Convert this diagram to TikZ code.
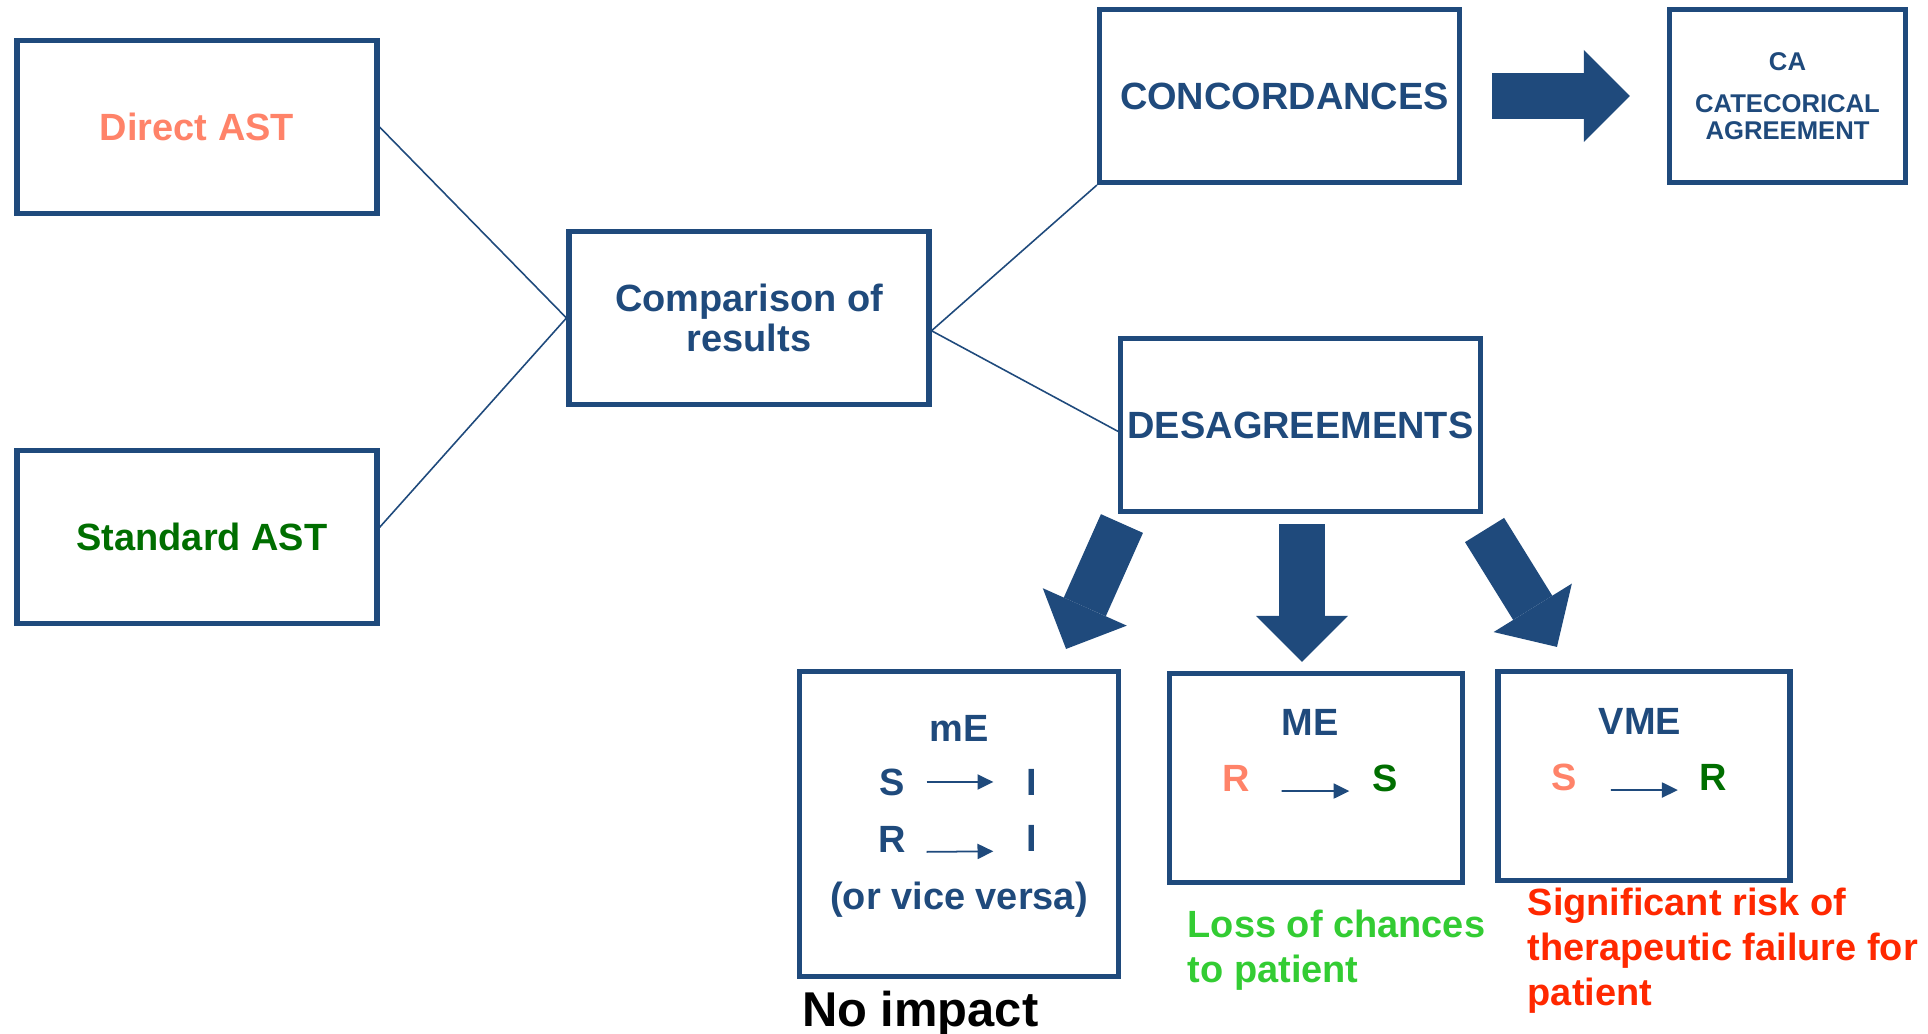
\documentclass[tikz,border=0pt]{standalone}
\usepackage{fontspec}
\setmainfont{Liberation Sans}
\usepackage{xcolor}
\usepackage{tikz}
\usetikzlibrary{arrows.meta,calc}
\definecolor{navy}{HTML}{1F4A7C}
\definecolor{salmon}{HTML}{FF8369}
\definecolor{leaf}{HTML}{006E00}
\definecolor{lime}{HTML}{33CC33}
\definecolor{alert}{HTML}{FF2800}
\tikzset{box/.style={rectangle,draw=navy,line width=1.45pt,minimum width=3.6cm,minimum height=1.73cm,inner sep=0pt,align=center,text=navy,font=\fontsize{10.8}{11.2}\selectfont\bfseries}}
\tikzset{lbl/.style={inner sep=0pt,text=navy,font=\fontsize{10.8}{12.8}\selectfont\bfseries}}
\tikzset{link/.style={draw=navy,line width=0.45pt}}
\tikzset{fatarr/.style={draw=navy,line width=4.6mm,-{Triangle[length=4.6mm,width=9.2mm,line width=0pt]}}}
\tikzset{arr/.style={draw=navy,line width=0.5pt,-{Triangle[length=4.5pt,width=4.3pt]}}}

\begin{document}
\begin{tikzpicture}
    \useasboundingbox (0,0) rectangle (19.28,10.34);

    \node[box,text=salmon] (dir) at (1.97,9.07) {Direct AST};
    \node[box,text=leaf] (std) at (1.97,4.97) {\hspace*{1mm}Standard AST};
    \node[box] (cmp) at (7.49,7.16) {Comparison of\\results};
    \node[box] (conc) at (12.795,9.38) {\hspace*{1mm}CONCORDANCES};
    \node[box,minimum width=2.36cm,font=\fontsize{7.3}{7.6}\selectfont\bfseries] (ca) at (17.875,9.38) {CA\\[4.3pt]CATECORICAL\\AGREEMENT};
    \node[box] (dis) at (13.005,6.09) {DESAGREEMENTS};
    \node[box,minimum width=3.19cm,minimum height=3.05cm] (minor) at (9.59,2.10) {};
    \node[box,minimum width=2.93cm,minimum height=2.09cm] (major) at (13.16,2.56) {};
    \node[box,minimum width=2.92cm,minimum height=2.09cm] (vmajor) at (16.44,2.58) {};

    \node[lbl] (mtitle) at (9.59,3.06) {mE};
    \node[lbl] (ms) at (8.92,2.52) {S};
    \node[lbl] (mi) at (10.32,2.52) {I};
    \node[lbl] (mr) at (8.92,1.95) {R};
    \node[lbl] (mii) at (10.32,1.96) {I};
    \node[lbl] (mvv) at (9.59,1.34) {(or vice versa)};
    \node[lbl,text=black,font=\fontsize{13.9}{16}\selectfont\bfseries,anchor=base west] (noimp) at (8.015,0.07) {No impact};

    \node[lbl] (jtitle) at (13.10,3.12) {ME};
    \node[lbl,text=salmon] (jr) at (12.365,2.56) {R};
    \node[lbl,text=leaf] (js) at (13.85,2.56) {S};
    \node[lbl,text=lime,align=left,anchor=north west] (loss) at (11.87,1.25) {Loss of chances\\to patient};

    \node[lbl] (vtitle) at (16.40,3.13) {VME};
    \node[lbl,text=salmon] (vs) at (15.645,2.57) {S};
    \node[lbl,text=leaf] (vr) at (17.135,2.57) {R};
    \node[lbl,text=alert,align=left,anchor=north west] (risk) at (15.27,1.47) {Significant risk of\\therapeutic failure for\\patient};

    \draw [link] (dir.east) to [] (cmp.west);
    \draw [link] (std.3) to [] (cmp.west);
    \draw [link] (cmp.-4) to [] (conc.south west);
    \draw [link] (cmp.-4) to [] (dis.182);

    \draw [fatarr] ([xshift=3mm]conc.east) to [] ([xshift=-3.7mm]ca.west);
    \draw [fatarr] ($(dis.south west)+(0.04,-0.095)$) to [] ($(minor.north east)+(-0.55,0.2)$);
    \draw [fatarr] ($(dis.south)+(0.015,-0.1)$) to [] ($(dis.south |- major.north)+(0.015,0.09)$);
    \draw [fatarr] ($(dis.south east)+(0.015,-0.16)$) to [] ($(vmajor.north west)+(0.615,0.22)$);

    \draw [arr,shorten <=2.13mm,shorten >=3.27mm] (ms.east) to [] (mi.west);
    \draw [arr,shorten <=2.03mm,shorten >=3.27mm] (mr.base east) to [] (mii.base west);
    \draw [arr,shorten <=3.08mm,shorten >=2.23mm] (jr.base east) to [] (js.base west);
    \draw [arr,shorten <=3.29mm,shorten >=2.13mm] (vs.base east) to [] (vr.base west);
\end{tikzpicture}
\end{document}
